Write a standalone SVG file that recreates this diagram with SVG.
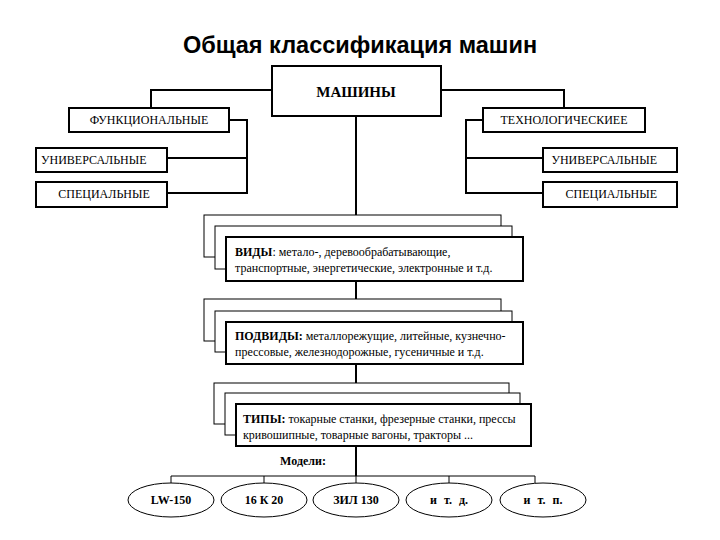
<svg xmlns="http://www.w3.org/2000/svg" width="720" height="540" viewBox="0 0 720 540">
<style>
.bx{fill:#fff;stroke:#000;stroke-width:2}
.bt{fill:#fff;stroke:#000;stroke-width:1}
.ln{fill:none;stroke:#000;stroke-width:2}
.tn{fill:none;stroke:#000;stroke-width:1}
.t{font-family:"Liberation Serif","Times New Roman","DejaVu Serif",serif;font-size:12px;fill:#000}
.s{font-family:"Liberation Serif","Times New Roman","DejaVu Serif",serif;font-size:12px;fill:#000}
.b{font-weight:bold}
.el{fill:#fff;stroke:#000;stroke-width:1}
.et{font-family:"Liberation Serif","Times New Roman","DejaVu Serif",serif;font-size:12px;font-weight:bold;text-anchor:middle}
</style>
<rect width="720" height="540" fill="#fff"/>
<text x="360" y="53" text-anchor="middle" style="font-family:'Liberation Sans',Arial,sans-serif;font-size:23.5px;font-weight:bold">Общая классификация машин</text>
<g id="connectors">
<path class="ln" d="M272 90H151V108M441 90H564V108"/>
<path class="ln" d="M229 120H247V193H167M247 158H167"/>
<path class="ln" d="M483 120H466V193H543M466 158H543"/>
<path class="ln" d="M356 115V215M356 281V299M356 364V383M356 446V476"/>
<path class="tn" d="M171 476H535M171 476V483M264 476V483M356 476V483M449 476V483M535 476V483"/>
</g>
<g id="mashiny"><rect class="bx" x="272" y="66" width="169" height="50"/><text x="356" y="97" text-anchor="middle" class="t b" style="font-size:15px">МАШИНЫ</text></g>
<g id="func"><rect class="bx" x="69" y="108" width="160" height="24"/><text x="149" y="124" text-anchor="middle" class="t">ФУНКЦИОНАЛЬНЫЕ</text></g>
<g id="tech"><rect class="bx" x="483" y="108" width="162" height="24"/><text x="564" y="124" text-anchor="middle" class="t">ТЕХНОЛОГИЧЕСКИЕЕ</text></g>
<g id="univ-l"><rect class="bx" x="36" y="148" width="131" height="24"/><text x="41" y="164" class="t">УНИВЕРСАЛЬНЫЕ</text></g>
<g id="spec-l"><rect class="bx" x="36" y="182" width="131" height="25"/><text x="104" y="198" text-anchor="middle" class="t">СПЕЦИАЛЬНЫЕ</text></g>
<g id="univ-r"><rect class="bx" x="543" y="148" width="134" height="24"/><text x="657" y="164" text-anchor="end" class="t">УНИВЕРСАЛЬНЫЕ</text></g>
<g id="spec-r"><rect class="bx" x="543" y="182" width="134" height="25"/><text x="657" y="198" text-anchor="end" class="t">СПЕЦИАЛЬНЫЕ</text></g>
<g id="vidy">
<rect class="bt" x="204" y="215" width="297" height="42"/>
<rect class="bt" x="215" y="226" width="297" height="43"/>
<rect class="bx" x="226" y="237" width="297" height="44"/>
<text x="235" y="256" class="s"><tspan class="b">ВИДЫ</tspan>: метало-, деревообрабатывающие,</text>
<text x="235" y="272" class="s">транспортные, энергетические, электронные и т.д.</text>
</g>
<g id="podvidy">
<rect class="bt" x="204" y="299" width="297" height="42"/>
<rect class="bt" x="215" y="311" width="297" height="41"/>
<rect class="bx" x="226" y="322" width="297" height="42"/>
<text x="235" y="340" class="s"><tspan class="b">ПОДВИДЫ:</tspan> металлорежущие, литейные, кузнечно-</text>
<text x="235" y="356" class="s">прессовые, железнодорожные, гусеничные и т.д.</text>
</g>
<g id="tipy">
<rect class="bt" x="214" y="383" width="295" height="41"/>
<rect class="bt" x="225" y="393" width="295" height="42"/>
<rect class="bx" x="236" y="404" width="295" height="42"/>
<text x="243" y="423" class="s"><tspan class="b">ТИПЫ:</tspan> токарные станки, фрезерные станки, прессы</text>
<text x="243" y="439" class="s">кривошипные, товарные вагоны, тракторы ...</text>
</g>
<text x="303" y="465" text-anchor="middle" class="et">Модели:</text>
<g id="m1"><ellipse class="el" cx="171" cy="500" rx="43" ry="17"/><text x="171" y="504" class="et">LW-150</text></g>
<g id="m2"><ellipse class="el" cx="264" cy="500" rx="43" ry="17"/><text x="264" y="504" class="et">16 К 20</text></g>
<g id="m3"><ellipse class="el" cx="356" cy="500" rx="43" ry="17"/><text x="356" y="504" class="et">ЗИЛ 130</text></g>
<g id="m4"><ellipse class="el" cx="449" cy="500" rx="43" ry="17"/><text x="449" y="504" class="et" style="word-spacing:4px">и т. д.</text></g>
<g id="m5"><ellipse class="el" cx="543" cy="500" rx="43" ry="17"/><text x="543" y="504" class="et" style="word-spacing:4px">и т. п.</text></g>
</svg>
